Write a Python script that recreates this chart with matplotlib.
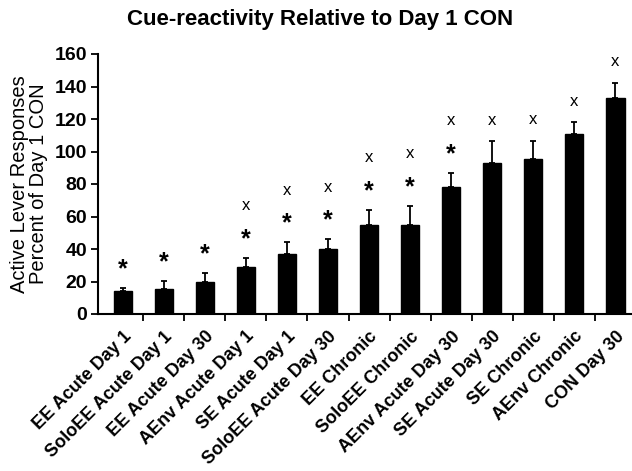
import numpy as np
import matplotlib
matplotlib.use('Agg')
import matplotlib.pyplot as plt
from matplotlib.ticker import FixedLocator

plt.rcParams['font.family'] = ['Liberation Sans', 'DejaVu Sans']

groups = ['EE Acute Day 1', 'SoloEE Acute Day 1', 'EE Acute Day 30',
          'AEnv Acute Day 1', 'SE Acute Day 1', 'SoloEE Acute Day 30',
          'EE Chronic', 'SoloEE Chronic', 'AEnv Acute Day 30',
          'SE Acute Day 30', 'SE Chronic', 'AEnv Chronic', 'CON Day 30']
means = [14.0, 15.4, 19.9, 28.9, 37.1, 40.2, 54.8, 54.8, 78.0, 92.7, 95.6, 110.6, 133.1]
sems = [2.0, 4.9, 5.5, 5.8, 7.2, 5.8, 9.2, 11.9, 8.8, 13.5, 10.9, 7.4, 9.1]
# significance marks drawn above each bar, bottom to top
marks = ['*', '*', '*', '*x', '*x', '*x', '*x', '*x', '*x', 'x', 'x', 'x', 'x']
yticks = [0, 20, 40, 60, 80, 100, 120, 140, 160]

fig = plt.figure(figsize=(6.32, 4.71), dpi=100)
ax = fig.add_axes([98 / 632, 157 / 471, 538 / 632, 260 / 471])

x = np.arange(len(groups))
ax.bar(x, means, width=0.44, color='black', edgecolor='black', zorder=2)
ax.errorbar(x, means, yerr=[np.zeros(len(means)), sems], fmt='none',
            ecolor='black', elinewidth=1.3, capsize=2.5, capthick=1.3, zorder=1)

for xi, m, s, mk in zip(x, means, sems, marks):
    off = 13
    for ch in mk:
        if ch == '*':
            ax.text(xi, m + s + off, '*', ha='center', va='center_baseline',
                    fontsize=18, fontweight='bold')
            off += 19
        else:
            ax.text(xi, m + s + off, 'x', ha='center', va='center',
                    fontsize=12)

ax.set_xlim(-0.6, 12.5)
ax.set_ylim(0, 160)
ax.set_yticks(yticks)
ax.set_yticklabels([str(v) for v in yticks], fontsize=14, fontweight='bold')
ax.set_xticks(x)
ax.set_xticklabels(groups, rotation=45, ha='right', va='top',
                   rotation_mode='anchor', fontsize=13, fontweight='bold')
ax.xaxis.set_minor_locator(FixedLocator(x[1:] - 0.5))
ax.tick_params(axis='x', which='major', length=0, pad=10)
ax.tick_params(axis='x', which='minor', length=5, width=1.3, direction='out')
ax.tick_params(axis='y', length=5, width=1.3, direction='out', pad=3)

for side in ['top', 'right']:
    ax.spines[side].set_visible(False)
for side in ['left', 'bottom']:
    ax.spines[side].set_linewidth(1.5)

fig.text(320 / 632, 1 - 20 / 471, 'Cue-reactivity Relative to Day 1 CON',
         ha='center', va='center', fontsize=16, fontweight='bold')
fig.text(29 / 632, 1 - 184 / 471, 'Active Lever Responses\nPercent of Day 1 CON',
         ha='center', va='center', rotation=90, fontsize=14.5,
         multialignment='center', linespacing=1.0)

fig.savefig('out.png', dpi=100)
